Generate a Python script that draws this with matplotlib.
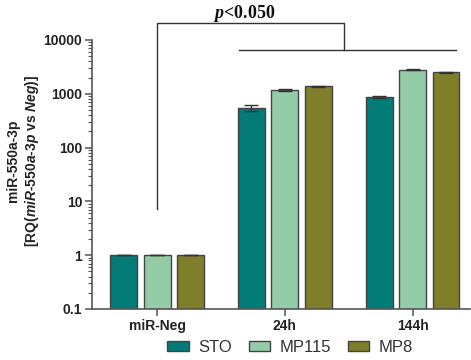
import numpy as np
import matplotlib
matplotlib.use("Agg")
import matplotlib.pyplot as plt
from matplotlib.ticker import LogLocator, FixedLocator, FixedFormatter, NullFormatter

plt.rcParams['font.family'] = 'Liberation Sans'
plt.rcParams['mathtext.fontset'] = 'custom'
plt.rcParams['mathtext.rm'] = 'Liberation Sans:bold'
plt.rcParams['mathtext.it'] = 'Liberation Sans:bold:italic'
plt.rcParams['mathtext.sf'] = 'Liberation Serif:bold:italic'

groups = ["miR-Neg", "24h", "144h"]
series = ["STO", "MP115", "MP8"]
colors = ["#017a78", "#93cca7", "#7f7f2b"]

sto = [1, 550, 870]
mp115 = [1, 1170, 2800]
mp8 = [1, 1370, 2500]
sto_err = [0, 70, 40]
mp115_err = [0, 40, 60]
mp8_err = [0, 30, 50]

values = [sto, mp115, mp8]
errors = [sto_err, mp115_err, mp8_err]

fig = plt.figure(figsize=(4.71, 3.6), dpi=100)
ax = fig.add_axes([0.1953, 0.1417, 0.8027, 0.7472])

x = np.arange(len(groups))
w = 0.21
step = 0.262
for i, s in enumerate(series):
    ax.bar(x + (i - 1) * step, values[i], w, color=colors[i], edgecolor="#444444",
           linewidth=1.0, label=s, yerr=errors[i], capsize=5,
           error_kw=dict(ecolor="#333333", elinewidth=1, capthick=1))

ax.set_yscale("log")
ax.set_ylim(0.1, 10000)
ax.set_xlim(-0.51, 2.45)
ax.yaxis.set_major_locator(FixedLocator([0.1, 1, 10, 100, 1000, 10000]))
ax.yaxis.set_major_formatter(FixedFormatter(["0.1", "1", "10", "100", "1000", "10000"]))
ax.yaxis.set_minor_locator(LogLocator(base=10, subs=np.arange(2, 10)))
ax.yaxis.set_minor_formatter(NullFormatter())

ax.set_xticks(x)
ax.set_xticklabels(groups)
for lab in ax.get_xticklabels() + ax.get_yticklabels():
    lab.set_fontweight("bold")
    lab.set_fontsize(10)
    lab.set_color("#222222")

ax.tick_params(axis="both", which="major", length=5, width=1.1, color="#555555", pad=2)
ax.tick_params(axis="y", which="minor", length=3, width=0.8, color="#555555")

for sp in ["top", "right"]:
    ax.spines[sp].set_visible(False)
for sp in ["left", "bottom"]:
    ax.spines[sp].set_color("#555555")
    ax.spines[sp].set_linewidth(1.2)

ax.set_ylabel("miR-550a-3p\n[RQ($\\mathit{miR}$-$\\mathit{550a}$-$\\mathit{3p}$ vs $\\mathit{Neg}$)]",
              fontsize=10, fontweight="bold", color="#222222")
ax.yaxis.set_label_coords(-0.135, 0.55)

# significance bracket
top = 21000
ax.plot([0.0, 0.0, 1.46, 1.46], [7.2, top, top, 6600], color="#333333", lw=1.0, clip_on=False)
ax.plot([0.64, 2.34], [6600, 6600], color="#333333", lw=1.0, clip_on=False)
ax.text(0.68, 31000, "$\\mathsf{p}$<0.050", ha="center", va="center", fontsize=13,
        family="Liberation Serif", fontweight="bold", color="#111111")

fig.legend(loc="center", bbox_to_anchor=(0.616, 0.036), ncol=3, frameon=False,
           fontsize=12, handlelength=1.3, handleheight=0.55, handletextpad=0.55,
           columnspacing=1.0, labelcolor="#333333")

fig.savefig("out.png", dpi=100)
